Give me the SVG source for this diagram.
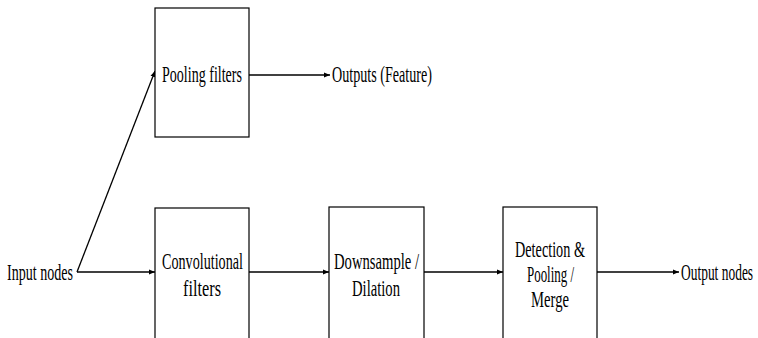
<svg xmlns="http://www.w3.org/2000/svg" width="758" height="338" viewBox="0 0 758 338">
<defs>
<style>
.box{fill:#fff;stroke:#000;stroke-width:1.2}
.t{font-family:"Liberation Serif","Times New Roman",serif;font-size:23px;fill:#000}
.ln{stroke:#000;stroke-width:1.3;fill:none;marker-end:url(#ah)}
</style>
<marker id="ah" viewBox="0 0 10 10" refX="10" refY="5" markerWidth="6" markerHeight="6" markerUnits="userSpaceOnUse" orient="auto">
<path d="M0,1 L10,5 L0,9 z" fill="#000"/>
</marker>
</defs>
<rect width="758" height="338" fill="#fff"/>
<g id="connectors">
<line class="ln" x1="77" y1="272" x2="155" y2="272"/>
<line class="ln" x1="77" y1="272" x2="155" y2="71"/>
<line class="ln" x1="249" y1="75" x2="330" y2="75"/>
<line class="ln" x1="249" y1="272" x2="329" y2="272"/>
<line class="ln" x1="424" y1="272" x2="503" y2="272"/>
<line class="ln" x1="597" y1="272" x2="679" y2="272"/>
</g>
<g id="input">
<text class="t" x="7" y="280" textLength="66" lengthAdjust="spacingAndGlyphs">Input nodes</text>
</g>
<g id="pooling">
<rect class="box" x="155" y="8" width="94" height="129"/>
<text class="t" x="162" y="82" textLength="80" lengthAdjust="spacingAndGlyphs">Pooling filters</text>
</g>
<g id="outputs-feature">
<text class="t" x="332" y="82" textLength="100" lengthAdjust="spacingAndGlyphs">Outputs (Feature)</text>
</g>
<g id="conv">
<rect class="box" x="155" y="208" width="94" height="140"/>
<text class="t" x="162" y="269" textLength="81" lengthAdjust="spacingAndGlyphs">Convolutional</text>
<text class="t" x="183" y="296" textLength="38" lengthAdjust="spacingAndGlyphs">filters</text>
</g>
<g id="downsample">
<rect class="box" x="329" y="207" width="95" height="141"/>
<text class="t" x="334" y="269" textLength="85" lengthAdjust="spacingAndGlyphs">Downsample /</text>
<text class="t" x="352" y="296" textLength="48" lengthAdjust="spacingAndGlyphs">Dilation</text>
</g>
<g id="detection">
<rect class="box" x="503" y="207" width="94" height="141"/>
<text class="t" x="515" y="257" textLength="70" lengthAdjust="spacingAndGlyphs">Detection &amp;</text>
<text class="t" x="527" y="282" textLength="47" lengthAdjust="spacingAndGlyphs">Pooling /</text>
<text class="t" x="531" y="307" textLength="38" lengthAdjust="spacingAndGlyphs">Merge</text>
</g>
<g id="output">
<text class="t" transform="translate(681,280) scale(0.585,1)" x="0" y="0">Output nodes</text>
</g>
</svg>
